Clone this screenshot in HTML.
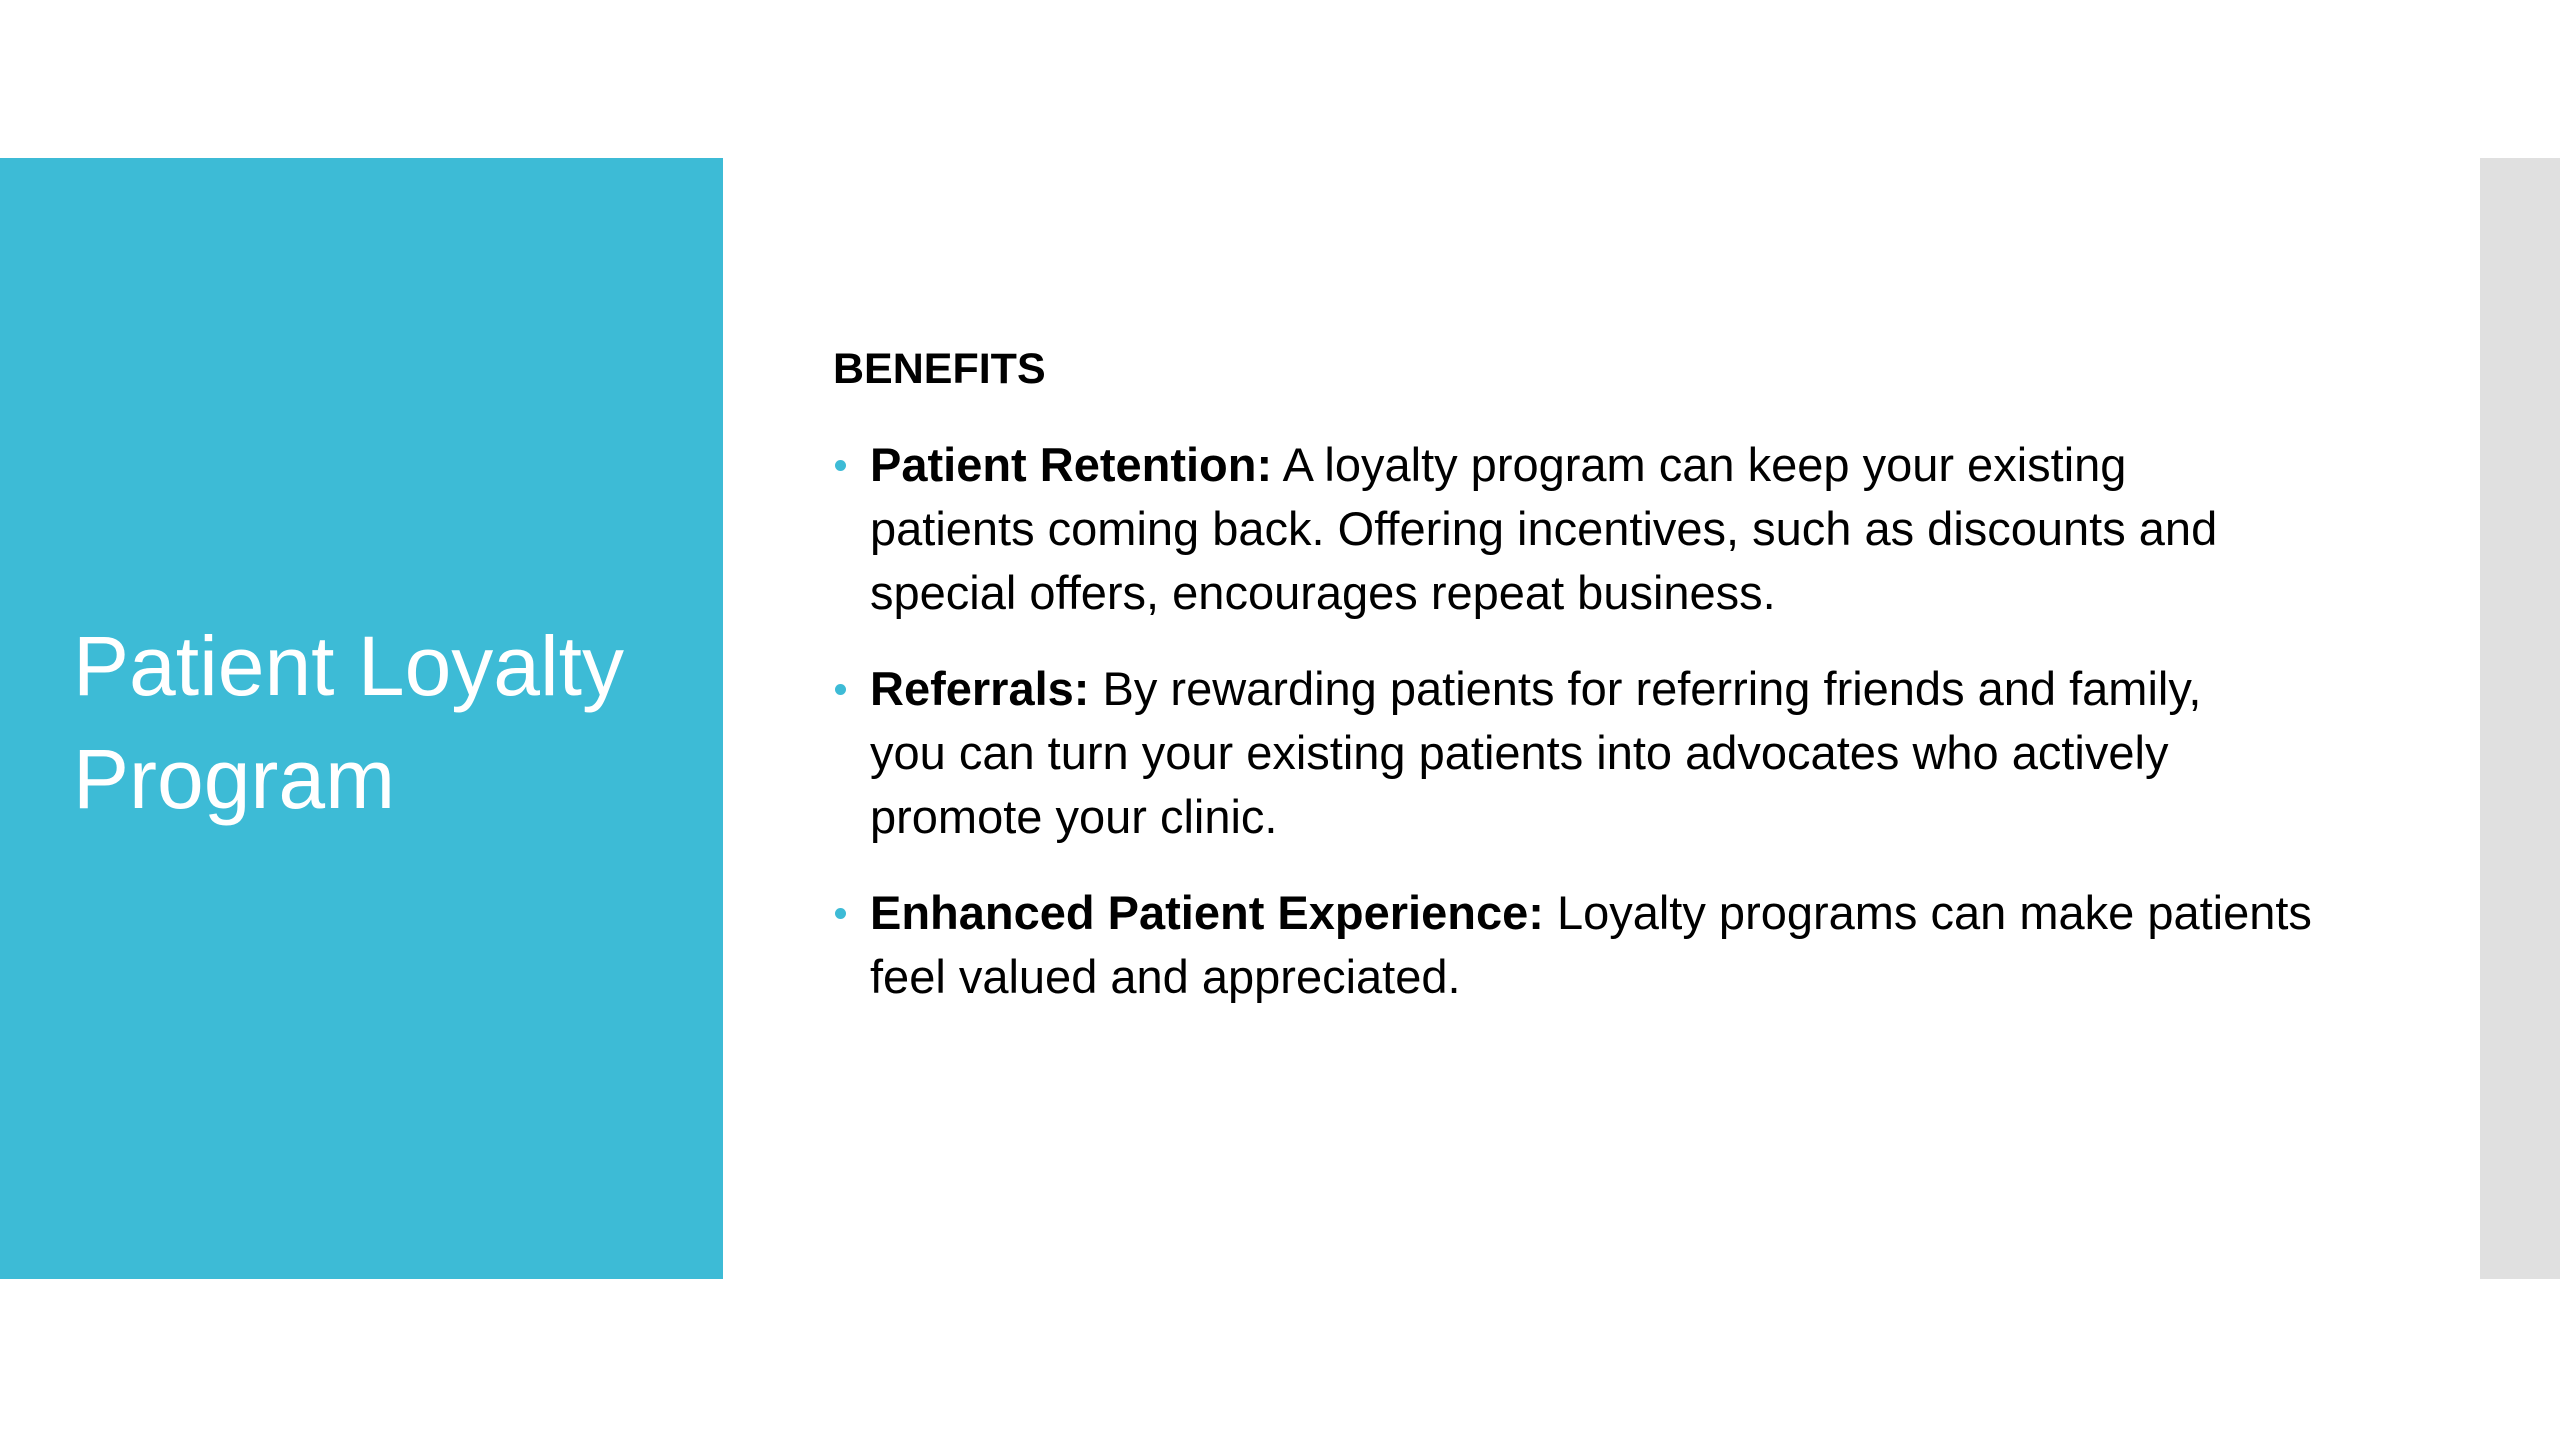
<!DOCTYPE html>
<html><head><meta charset="utf-8"><style>
body{margin:0;width:2560px;height:1440px;background:#fff;position:relative;overflow:hidden;font-family:"Liberation Sans",sans-serif;color:#000}
.teal{position:absolute;left:0;top:158px;width:723px;height:1121px;background:#3DBBD6}
.gray{position:absolute;left:2480px;top:158px;width:80px;height:1121px;background:#E0E0E0}
.title{position:absolute;left:73px;top:610px;color:#fff;font-size:84px;line-height:113px;white-space:nowrap}
.h{position:absolute;left:833px;top:342px;font-size:43px;font-weight:bold;line-height:54px}
.list{position:absolute;left:870px;top:433px;font-size:47px;line-height:64px;white-space:nowrap}
.p{position:relative;margin-bottom:32px}
.p:before{content:"";position:absolute;left:-35px;top:27px;width:11px;height:11px;border-radius:50%;background:#3DBBD6}
</style></head><body>
<div class="teal"></div><div class="gray"></div>
<div class="title">Patient Loyalty<br>Program</div>
<div class="h">BENEFITS</div>
<div class="list">
<div class="p"><b>Patient Retention:</b> A loyalty program can keep your existing<br>patients coming back. Offering incentives, such as discounts and<br>special offers, encourages repeat business.</div>
<div class="p"><b>Referrals:</b> By rewarding patients for referring friends and family,<br>you can turn your existing patients into advocates who actively<br>promote your clinic.</div>
<div class="p"><b>Enhanced Patient Experience:</b> Loyalty programs can make patients<br>feel valued and appreciated.</div>
</div>
</body></html>
